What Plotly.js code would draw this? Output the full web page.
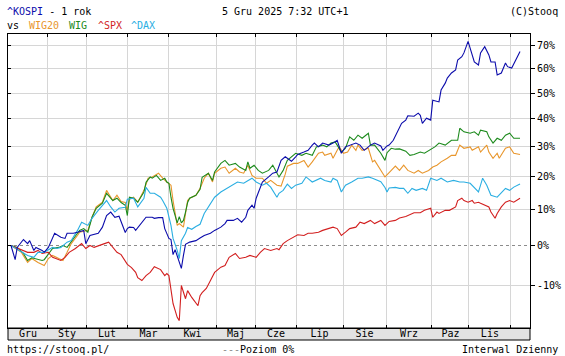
<!DOCTYPE html>
<html><head><meta charset="utf-8">
<script src="https://cdn.plot.ly/plotly-3.0.1.min.js"></script>
<style>html,body{margin:0;padding:0;background:#fff;}#chart{width:565px;height:356px;}</style>
</head><body><div id="chart"></div>
<script>
// [trading-day index, % change since start]
const kospi = [[0,0],[2,-3.7],[3,-0.5],[6,1.6],[8,0.5],[9,1.3],[11,-1.3],[12,-0.5],[15,-1.3],[16,-1.8],[18,-0.5],[20,1.9],[21,3.3],[24,2.2],[26,1.9],[27,3.3],[30,3.3],[32,3.6],[35,4.1],[36,0.5],[38,2.7],[42,3.3],[44,5.0],[46,8.3],[48,9.3],[50,7.8],[52,8.1],[55,3.5],[56,4.6],[57,5.0],[59,4.9],[60,4.1],[62,5.5],[64,6.9],[65,7.8],[68,7.8],[69,7.5],[71,7.7],[73,7.7],[74,4.6],[76,1.9],[77,1.6],[78,-2.4],[79,-1.1],[81,-4.4],[82,-5.9],[83,-2.6],[84,0.3],[86,0.9],[89,1.3],[91,2.0],[93,2.7],[96,3.3],[98,4.1],[101,5.0],[103,6.0],[104,6.9],[107,6.9],[109,7.5],[111,6.4],[113,7.8],[114,9.8],[116,11.3],[117,10.4],[118,13.4],[120,16.8],[121,18.4],[124,20.0],[126,21.2],[128,21.6],[130,25.4],[132,26.6],[133,26.1],[135,25.1],[137,26.6],[138,27.4],[141,28.2],[143,28.8],[145,30.6],[146,31.3],[148,30.0],[150,31.3],[153,30.6],[155,31.3],[157,32.3],[159,27.8],[161,30.0],[163,30.6],[166,31.3],[168,30.6],[170,28.8],[173,30.6],[175,31.3],[178,30.3],[179,28.8],[181,30.3],[182,30.6],[184,32.3],[186,35.4],[188,38.4],[190,39.6],[191,41.2],[194,41.0],[196,42.2],[197,41.4],[198,38.4],[200,40.3],[202,39.6],[203,47.2],[206,46.5],[207,51.2],[209,54.0],[210,56.1],[212,58.2],[214,59.5],[215,63.8],[217,65.2],[218,66.9],[220,72.1],[222,66.0],[223,62.9],[225,61.6],[226,66.9],[228,69.7],[230,66.0],[231,62.9],[233,62.9],[234,57.4],[236,58.2],[238,62.5],[239,60.9],[241,60.3],[243,63.8],[244,66.0],[245,67.5]];
const wig20 = [[0,0],[5,-1.8],[8,-4.4],[10,-3.4],[13,-4.4],[16,-5.2],[18,-3.4],[20,-2.6],[23,-3.4],[25,-3.9],[27,-1.8],[29,0.5],[32,2.7],[33,3.6],[37,4.1],[39,7.8],[41,10.8],[44,12.2],[46,15.8],[49,12.7],[51,14.3],[53,12.4],[55,12.1],[56,9.8],[57,13.1],[59,13.7],[61,12.2],[64,15.8],[66,19.6],[68,20.0],[71,21.2],[73,19.6],[75,18.4],[77,17.4],[78,12.7],[79,8.6],[80,5.5],[81,6.0],[83,5.0],[85,12.7],[86,13.4],[89,14.3],[91,16.4],[93,19.6],[95,21.2],[97,18.4],[98,21.2],[101,22.8],[103,23.2],[105,21.2],[108,22.8],[110,21.6],[112,21.2],[114,23.8],[116,20.5],[118,19.6],[121,19.6],[123,18.0],[125,18.9],[128,17.4],[130,17.1],[132,20.9],[133,23.5],[136,24.4],[138,24.4],[141,25.4],[143,23.2],[145,24.9],[148,27.8],[150,28.2],[151,27.1],[154,27.8],[155,26.1],[157,28.8],[158,30.0],[160,27.8],[162,28.2],[164,30.6],[166,28.8],[167,30.6],[169,28.8],[172,29.5],[174,24.9],[175,25.4],[178,22.1],[180,20.0],[182,21.4],[185,23.5],[187,22.1],[189,23.8],[191,22.1],[194,21.2],[196,22.1],[198,21.2],[201,22.1],[203,23.2],[205,23.8],[207,24.9],[210,26.1],[212,27.1],[214,27.1],[216,30.6],[218,29.5],[221,30.0],[222,28.8],[225,30.0],[226,28.2],[229,30.6],[230,28.2],[232,26.1],[234,27.8],[235,26.1],[238,29.5],[240,30.0],[242,27.8],[245,27.4]];
const wig = [[0,0],[3,-0.5],[6,-2.1],[8,-3.9],[10,-3.2],[13,-3.7],[15,-3.9],[16,-3.7],[18,-2.1],[20,-0.8],[23,-0.5],[25,0],[27,-0.5],[29,0.9],[32,3.3],[33,4.1],[35,4.6],[37,3.6],[39,7.8],[41,10.4],[44,11.9],[46,14.9],[49,12.7],[51,13.4],[53,12.1],[55,11.3],[56,8.3],[57,13.7],[59,13.4],[61,12.2],[64,15.3],[65,18.3],[67,20.0],[68,19.6],[70,20.5],[72,18.9],[74,19.6],[75,18.4],[76,18.0],[77,13.7],[78,10.4],[80,6.2],[81,8.0],[82,6.2],[83,6.9],[84,9.3],[85,12.1],[86,13.4],[89,14.3],[91,16.1],[92,19.9],[95,21.2],[97,18.9],[98,21.6],[101,24.4],[103,25.4],[105,23.8],[108,24.4],[110,23.2],[113,22.1],[114,24.9],[115,22.8],[117,23.8],[119,22.1],[121,21.2],[124,22.1],[126,23.8],[129,20.0],[131,22.1],[133,25.4],[135,26.6],[137,27.8],[140,27.1],[142,27.8],[145,27.1],[147,30.0],[150,30.6],[152,30.0],[154,31.3],[156,31.7],[157,30.6],[159,28.2],[161,29.5],[163,33.5],[165,32.3],[167,34.1],[169,33.0],[172,34.8],[173,30.6],[175,30.6],[178,27.8],[180,25.4],[181,28.0],[183,29.5],[185,29.2],[187,29.3],[190,28.5],[192,27.1],[194,27.4],[197,28.2],[199,27.8],[202,29.2],[204,30.0],[206,31.3],[209,30.6],[212,32.3],[215,32.3],[216,36.6],[218,35.3],[221,34.8],[223,35.3],[225,34.1],[226,35.9],[229,35.3],[230,33.5],[232,31.3],[234,33.0],[236,32.3],[238,34.1],[240,34.8],[242,33.0],[245,33.0]];
const spx = [[0,0],[4,-0.8],[8,-1.8],[11,-1.8],[13,-1.3],[15,-2.1],[18,-1.8],[20,-3.1],[24,-3.9],[26,-3.1],[28,-1.8],[31,-0.8],[34,0.5],[36,-0.8],[38,0],[40,-0.5],[43,0],[45,0.5],[47,0.9],[49,-0.5],[51,-1.8],[53,-2.4],[55,-3.9],[56,-4.9],[58,-5.7],[60,-6.9],[61,-8.2],[63,-8.9],[65,-7.7],[67,-6.9],[69,-5.5],[72,-6.2],[74,-7.7],[75,-7.2],[76,-7.7],[77,-10.6],[78,-14.3],[80,-17.4],[81,-18.1],[82,-10.1],[84,-13.2],[85,-11.3],[87,-12.9],[90,-14.8],[91,-12.5],[92,-11.8],[94,-10.8],[96,-8.9],[98,-6.9],[101,-5.6],[103,-5.2],[105,-3.1],[108,-2.1],[110,-3.4],[113,-3.1],[115,-2.6],[118,-3.1],[120,-1.8],[122,-0.8],[125,-1.3],[128,-0.8],[129,-1.1],[131,0.5],[133,1.3],[136,2.3],[138,2.9],[141,2.7],[143,3.3],[145,3.3],[148,3.6],[150,4.1],[153,4.6],[155,5.0],[157,4.6],[159,2.7],[161,3.6],[163,4.6],[166,5.0],[168,6.4],[170,6.0],[173,6.9],[175,6.0],[178,6.9],[180,5.5],[182,6.6],[185,6.9],[187,7.6],[190,8.0],[192,8.6],[194,9.1],[197,9.1],[199,9.8],[202,10.4],[203,7.8],[205,9.3],[206,8.9],[209,9.8],[211,9.8],[214,10.8],[215,12.7],[217,13.4],[218,12.7],[220,12.2],[222,12.7],[223,11.9],[225,12.2],[226,11.9],[228,11.3],[230,10.8],[231,9.3],[233,7.5],[234,8.9],[236,10.8],[238,12.2],[240,12.7],[242,12.2],[245,13.4]];
const dax = [[0,0],[4,-1.3],[8,-2.6],[11,-3.1],[13,-1.8],[16,-1.8],[20,-0.5],[22,-0.8],[24,-0.5],[27,0.9],[29,1.3],[32,4.1],[34,6.4],[37,5.5],[39,7.5],[42,9.8],[44,11.3],[46,12.7],[48,10.8],[50,9.3],[52,10.4],[55,10.7],[56,13.1],[59,13.4],[61,10.8],[64,13.4],[65,16.7],[67,14.9],[69,14.9],[72,13.7],[73,12.7],[75,10.4],[77,5.5],[78,1.9],[80,-1.3],[81,-3.4],[82,1.3],[84,3.3],[85,4.9],[87,4.4],[89,5.2],[91,5.8],[93,8.9],[96,11.9],[98,13.7],[101,15.3],[104,16.4],[107,17.4],[109,18.4],[112,18.0],[114,18.9],[116,19.6],[118,18.4],[121,17.4],[123,18.0],[125,16.8],[128,13.7],[129,14.9],[131,15.8],[133,17.7],[135,16.4],[137,17.4],[140,18.0],[142,20.0],[145,18.4],[147,18.9],[149,19.6],[151,18.9],[154,18.4],[155,19.6],[157,18.9],[159,15.3],[161,17.4],[164,18.4],[167,19.6],[169,19.6],[172,20.0],[174,19.6],[178,18.5],[180,16.7],[181,15.3],[182,16.5],[185,16.7],[187,16.4],[189,16.4],[191,14.9],[193,16.4],[195,15.8],[198,16.4],[200,15.8],[202,19.6],[205,18.9],[207,19.6],[210,18.4],[213,18.9],[216,18.4],[218,18.4],[221,18.0],[223,16.8],[225,15.3],[226,17.4],[227,19.6],[229,17.4],[231,14.3],[234,13.7],[235,14.3],[238,16.4],[240,15.8],[242,16.8],[245,17.8]];

const monthStartDay = [17.8, 36.1, 56.3, 76.0, 98.7, 117.9, 137.2, 159.8, 180.5, 202.6, 220.4, 240.6];
const monthLabels = ['Gru','Sty','Lut','Mar','Kwi','Maj','Cze','Lip','Sie','Wrz','Paz','Lis'];
const dayRange = [-1.44, 249.8];
const yTickPct = [-10, 0, 10, 20, 30, 40, 50, 60, 70];
const yRangeRatio = [0.803, 1.755];

const FONT = 'DejaVu Sans Mono, monospace';
const L = 8, R = 530, T = 34, B = 328;
const pw = R - L, ph = B - T;
const px = v => (v - L) / pw;
const py = v => (B - v) / ph;

const labelCenters = monthLabels.map((m, i) => {
  const a = i === 0 ? dayRange[0] : monthStartDay[i - 1];
  return (a + monthStartDay[i]) / 2;
});
const yVals = yTickPct.map(p => 1 + p / 100);
const yText = yTickPct.map(p => p + '%');
const yGrid = yVals.filter((v, i) => yTickPct[i] !== 0);
const yRange = yRangeRatio.map(Math.log10);

const C = {kospi:'#0c0cab', wig20:'#e8962c', wig:'#1c8a1c', spx:'#d21f1f', dax:'#2aaee2'};
const seriesDefs = [
  {name:'WIG20', data:wig20, color:C.wig20},
  {name:'WIG', data:wig, color:C.wig},
  {name:'^SPX', data:spx, color:C.spx},
  {name:'^DAX', data:dax, color:C.dax},
  {name:'^KOSPI', data:kospi, color:C.kospi}
];
const traces = seriesDefs.map(s => ({
  type:'scatter', mode:'lines', name:s.name,
  x:s.data.map(d => d[0]), y:s.data.map(d => 1 + d[1] / 100),
  line:{color:s.color, width:1.1}, hoverinfo:'skip', showlegend:false
}));
traces.push({type:'scatter', mode:'lines', x:[], y:[], yaxis:'y2', hoverinfo:'skip', showlegend:false});

const ann = (text, x, y, xanchor, color) => ({
  text, x, y, xref:'paper', yref:'paper', xanchor, yanchor:'middle', showarrow:false,
  borderpad:0, borderwidth:0, font:{family:FONT, size:10, color:color || '#000'}
});

const layout = {
  width:565, height:356,
  margin:{l:L, r:565 - R, t:T, b:356 - B, pad:0},
  paper_bgcolor:'#fff', plot_bgcolor:'#fff', showlegend:false,
  font:{family:FONT, size:10, color:'#000'},
  xaxis:{
    range:dayRange, tickmode:'array', tickvals:labelCenters, ticktext:monthLabels,
    ticks:'', showgrid:false, zeroline:false, showline:true, mirror:'ticks',
    linecolor:'#000', linewidth:1, tickfont:{family:FONT, size:10, color:'#000'},
    ticklabelstandoff:-4,
    minor:{tickmode:'array', tickvals:monthStartDay, ticks:'inside', ticklen:3, tickcolor:'#000',
           showgrid:true, gridcolor:'#d6d6d6', gridwidth:1},
    fixedrange:true
  },
  yaxis:{
    type:'log', side:'right', range:yRange, tickmode:'array', tickvals:yVals, ticktext:yText,
    ticks:'outside', ticklen:4, tickcolor:'#000', showgrid:false, zeroline:false,
    showline:true, mirror:true, linecolor:'#000', linewidth:1,
    tickfont:{family:FONT, size:10, color:'#000'},
    minor:{tickmode:'array', tickvals:yGrid, ticks:'', showgrid:true, gridcolor:'#d6d6d6', gridwidth:1},
    fixedrange:true
  },
  yaxis2:{
    type:'log', overlaying:'y', side:'left', range:yRange, tickmode:'array', tickvals:yVals,
    ticks:'inside', ticklen:3, tickcolor:'#000', showticklabels:false, showgrid:false,
    zeroline:false, showline:false, fixedrange:true
  },
  shapes:[
    {type:'rect', xref:'paper', yref:'paper', x0:0, x1:1, y0:-12 / ph, y1:0,
     fillcolor:'#e3e3e3', line:{color:'#000', width:1}, layer:'below'},
    {type:'line', xref:'paper', yref:'y', x0:0, x1:1, y0:1, y1:1,
     line:{color:'#8c8c8c', width:1, dash:'3px,3px'}, layer:'below'}
  ],
  annotations:[
    ann('<span style="color:' + C.kospi + '">^KOSPI</span> - 1 rok', px(7), py(12), 'left'),
    ann('5 Gru 2025 7:32 UTC+1', px(222), py(12), 'left'),
    ann('(C)Stooq', px(558), py(12), 'right'),
    ann('vs', px(7), py(25), 'left'),
    ann('WIG20', px(29), py(25), 'left', C.wig20),
    ann('WIG', px(69), py(25), 'left', C.wig),
    ann('^SPX', px(98), py(25), 'left', C.spx),
    ann('^DAX', px(131), py(25), 'left', C.dax),
    ann('https://stooq.pl/', px(7), py(349), 'left'),
    ann('<span style="color:#8c8c8c">---</span>Poziom 0%', px(222), py(349), 'left'),
    ann('Interwal Dzienny', px(558), py(349), 'right')
  ]
};

Plotly.newPlot('chart', traces, layout, {displayModeBar:false, staticPlot:true});
</script>
</body></html>
